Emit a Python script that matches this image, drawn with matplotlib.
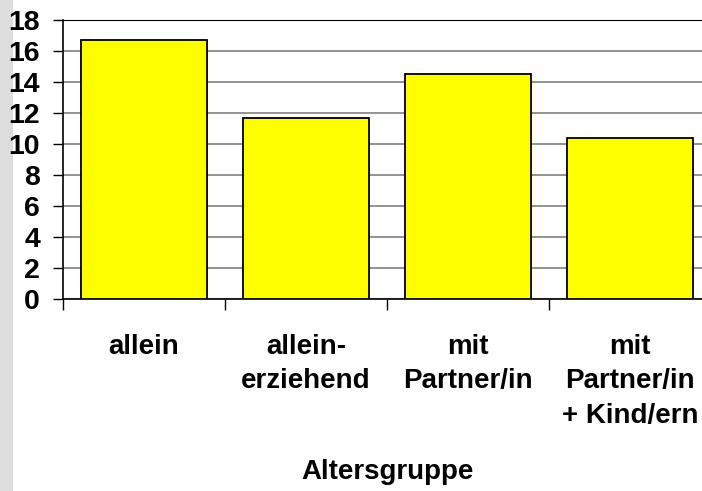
import matplotlib.pyplot as plt
from matplotlib.patches import Rectangle

categories = ['allein', 'allein-\nerziehend', 'mit\nPartner/in', 'mit\nPartner/in\n+ Kind/ern']
values = [16.7, 11.65, 14.5, 10.4]
yticks = [0, 2, 4, 6, 8, 10, 12, 14, 16, 18]

plt.rcParams['font.family'] = ['Liberation Sans', 'DejaVu Sans']
plt.rcParams['font.weight'] = 'bold'

fig = plt.figure(figsize=(7.02, 4.91), dpi=100)
fig.patches.append(Rectangle((0, 0), 13 / 702, 1, transform=fig.transFigure,
                             facecolor='#dddddd', edgecolor='none', zorder=-1))

# axes right edge runs past the figure edge, as in the original
ax = fig.add_axes([63 / 702, 1 - 299 / 491, 648 / 702, 279 / 491])

x = range(len(categories))
ax.bar(x, values, width=0.78, color='#ffff00', edgecolor='black', linewidth=1.3, zorder=3)

ax.set_xlim(-0.5, len(categories) - 0.5)
ax.set_ylim(0, 18)
ax.set_yticks(yticks)
ax.set_yticklabels([str(t) for t in yticks], fontsize=20.5, fontweight='bold')
ax.tick_params(axis='y', direction='out', length=7.5, width=1, pad=9)

ax.set_xticks(list(x))
ax.set_xticklabels(categories, fontsize=20, fontweight='bold', linespacing=1.42)
ax.set_xticks([i - 0.5 for i in range(len(categories) + 1)], minor=True)
ax.tick_params(axis='x', which='major', length=0, pad=25)
ax.tick_params(axis='x', which='minor', direction='out', length=8, width=1)

ax.yaxis.grid(True, color='#808080', linewidth=1.2, zorder=0)
ax.set_axisbelow(True)
ax.spines['right'].set_visible(False)
ax.spines['top'].set_color('black')
ax.spines['left'].set_linewidth(1.2)
ax.spines['bottom'].set_linewidth(1.2)

ax.set_xlabel('Altersgruppe', fontsize=20, fontweight='bold', labelpad=22)

plt.savefig('out.png', dpi=100)
